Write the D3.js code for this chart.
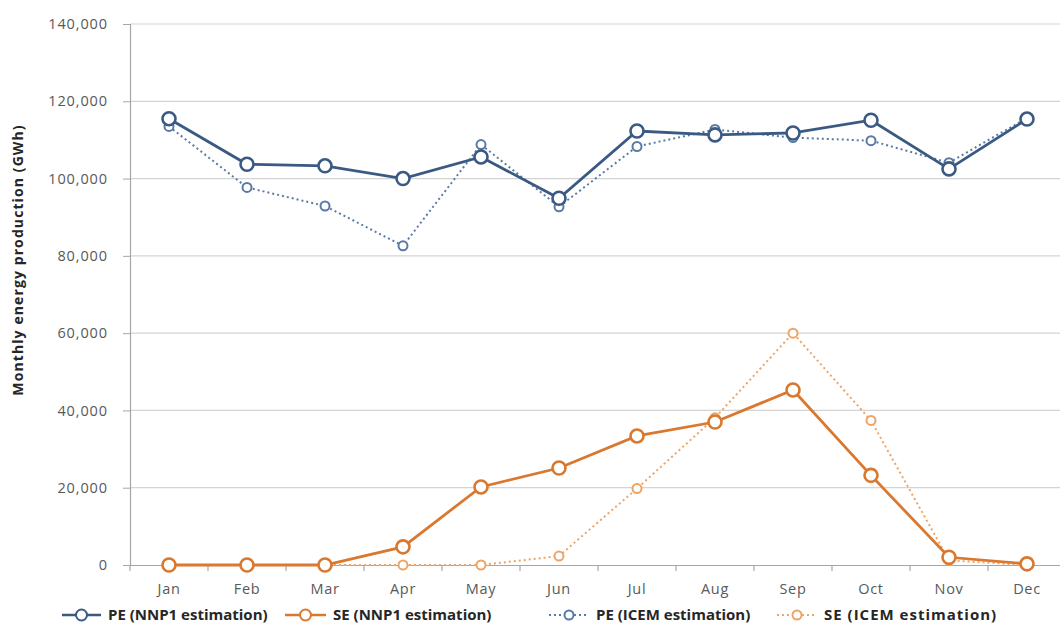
<!DOCTYPE html>
<html><head><meta charset="utf-8">
<script src="https://cdn.jsdelivr.net/npm/d3@7/dist/d3.min.js"></script>
<style>body{margin:0;background:#fff}svg{display:block}</style>
</head><body><svg id="c" width="1060" height="639"></svg>
<script>
const months = ["Jan","Feb","Mar","Apr","May","Jun","Jul","Aug","Sep","Oct","Nov","Dec"];
const peNNP1 = [115500,103700,103300,100000,105600,94900,112300,111300,111800,115100,102500,115400];
const seNNP1 = [0,0,0,4700,20200,25100,33400,37000,45300,23200,2000,300];
const peICEM = [113500,97700,92900,82600,108800,92700,108300,112700,110600,109800,104100,115700];
const seICEM = [0,0,0,0,0,2300,19800,38100,60000,37400,1200,0];
const yTicks = [0,20000,40000,60000,80000,100000,120000,140000];
const seriesNames = ["PE (NNP1 estimation)","SE (NNP1 estimation)","PE (ICEM estimation)","SE (ICEM estimation)"];

(function(){
const svg = d3.select("#c");
const mLeft = 130, mRight = 1066, mTop = 24, mBottom = 565;
const x = d3.scaleBand().domain(months).range([mLeft, mRight]);
const y = d3.scaleLinear().domain([0,140000]).range([mBottom, mTop]);
const cx = m => x(m) + x.bandwidth()/2;
const font = "'Open Sans', 'DejaVu Sans', sans-serif";

// gridlines
svg.append("g").selectAll("line").data(yTicks.filter(d=>d>0)).join("line")
  .attr("x1", mLeft).attr("x2", 1060).attr("y1", d=>y(d)).attr("y2", d=>y(d))
  .attr("stroke", "#d4d4d4").attr("stroke-width", 1.2);

// y axis
const ya = svg.append("g").attr("transform", `translate(${mLeft},0)`)
  .call(d3.axisLeft(y).tickValues(yTicks).tickFormat(d3.format(",")).tickSizeOuter(0).tickSize(7).tickPadding(15));
ya.select(".domain").attr("stroke", "#a6a6a6").attr("stroke-width", 1.2);
ya.selectAll(".tick line").attr("stroke", "#a6a6a6");
ya.selectAll("text").attr("font-family", font).attr("font-size", 14.5).attr("fill", "#595959").attr("letter-spacing", 0.9);

// x axis
const xa = svg.append("g").attr("transform", `translate(0,${mBottom})`)
  .call(d3.axisBottom(x).tickSize(0).tickPadding(19));
xa.select(".domain").attr("stroke", "#a6a6a6").attr("stroke-width", 1.2);
xa.selectAll("text").attr("font-family", font).attr("font-size", 14.5).attr("fill", "#595959").attr("letter-spacing", 0.7);
svg.append("g").selectAll("line").data(months).join("line")
  .attr("x1", d=>x(d)).attr("x2", d=>x(d)).attr("y1", mBottom).attr("y2", mBottom+6)
  .attr("stroke", "#a6a6a6").attr("stroke-width", 1.2);

// y title
svg.append("text").attr("transform", `translate(23,260) rotate(-90)`)
  .attr("text-anchor", "middle").attr("font-family", font).attr("font-weight", "bold")
  .attr("font-size", 14).attr("letter-spacing", 1.1).attr("fill", "#262626").text("Monthly energy production (GWh)");

const specs = [
  {data: peICEM, color: "#5a7aa6", w: 2, dash: "2,3", r: 4.5, sw: 2},
  {data: seICEM, color: "#eda467", w: 2, dash: "2,3", r: 4.5, sw: 2},
  {data: seNNP1, color: "#d9782e", w: 2.8, dash: null, r: 6.5, sw: 2.6},
  {data: peNNP1, color: "#3b5a83", w: 2.8, dash: null, r: 6.5, sw: 2.6},
];
const line = d3.line().x((d,i)=>cx(months[i])).y(d=>y(d));
specs.forEach(s => {
  const g = svg.append("g");
  g.append("path").datum(s.data).attr("d", line).attr("fill", "none")
    .attr("stroke", s.color).attr("stroke-width", s.w).attr("stroke-dasharray", s.dash);
  g.selectAll("circle").data(s.data).join("circle")
    .attr("cx", (d,i)=>cx(months[i])).attr("cy", d=>y(d)).attr("r", s.r)
    .attr("fill", "#fff").attr("stroke", s.color).attr("stroke-width", s.sw);
});

// legend
const leg = [
  {name: seriesNames[0], color: "#3b5a83", dash: null, x0: 62, x1: 101, r: 5.5, w: 2.5, ls: 0},
  {name: seriesNames[1], color: "#d9782e", dash: null, x0: 285, x1: 326, r: 5.5, w: 2.5, ls: 0},
  {name: seriesNames[2], color: "#5a7aa6", dash: "2,3", x0: 549, x1: 589, r: 4.5, w: 1.8, ls: 0},
  {name: seriesNames[3], color: "#eda467", dash: "2,3", x0: 777, x1: 817, r: 4.5, w: 1.8, ls: 1},
];
const ly = 615;
leg.forEach(l => {
  const g = svg.append("g");
  g.append("line").attr("x1", l.x0).attr("x2", l.x1).attr("y1", ly).attr("y2", ly)
    .attr("stroke", l.color).attr("stroke-width", l.w).attr("stroke-dasharray", l.dash);
  g.append("circle").attr("cx", (l.x0+l.x1)/2).attr("cy", ly).attr("r", l.r)
    .attr("fill", "#fff").attr("stroke", l.color).attr("stroke-width", 2);
  g.append("text").attr("x", l.x1 + 7).attr("y", ly + 5).attr("font-family", font)
    .attr("font-weight", "bold").attr("font-size", 15).attr("letter-spacing", l.ls).attr("fill", "#262626").text(l.name);
});
})();
</script></body></html>
